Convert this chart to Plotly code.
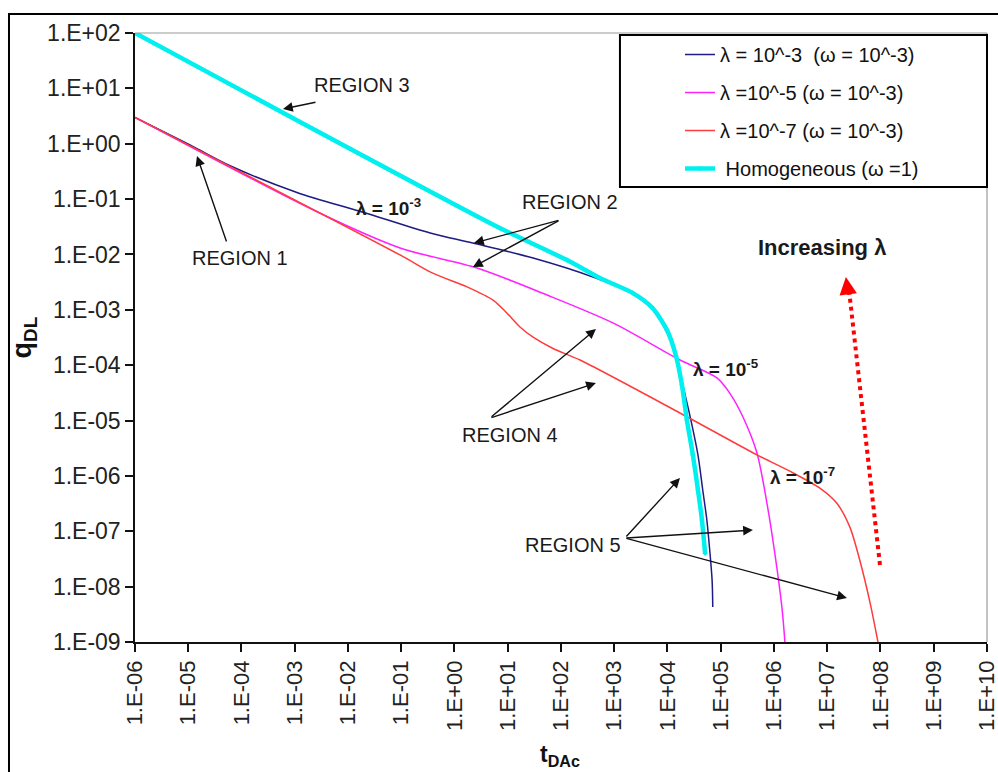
import plotly.graph_objects as go

# Dimensionless rate q_DL versus dimensionless time t_DAc (log-log)
t_lam3 = [1e-6, 1.08e-5, 6.1e-5, 1.1e-3, 1.91e-2, 0.35, 2.2, 30, 400, 2.25e3, 5.3e3,
          1.02e4, 1.51e4, 2.04e4, 2.76e4, 3.74e4, 4.6e4, 5.5e4, 6.3e4, 6.9e4, 7.1e4]
q_lam3 = [3.0, 0.95, 0.40, 0.132, 5.8e-2, 2.44e-2, 1.61e-2, 8.6e-3, 3.9e-3, 1.93e-3, 1.0e-3,
          3.6e-4, 1.24e-4, 3.6e-5, 1.02e-5, 2.4e-6, 5.6e-7, 1.6e-7, 4.0e-8, 1.31e-8, 4.3e-9]

t_lam5 = [1e-6, 2.62e-3, 9.5e-2, 2.65, 55, 950, 1.72e4, 8.5e4, 1.49e5, 2.62e5, 4.8e5,
          7.4e5, 1.04e6, 1.41e6, 1.61e6]
q_lam5 = [3.0, 5.9e-2, 1.31e-2, 5.7e-3, 1.85e-3, 5.8e-4, 1.24e-4, 5.9e-5, 3.1e-5, 1.16e-5, 2.6e-6,
          3.2e-7, 4.0e-8, 4.3e-9, 1.0e-9]

t_lam7 = [1e-6, 9.5e-2, 0.39, 1.72, 5.3, 9.7, 17, 30, 71, 228, 1.72e4, 4.8e5, 2.3e6, 7.3e6,
          1.52e7, 2.67e7, 4.1e7, 6.4e7, 9.0e7]
q_lam7 = [3.0, 9.8e-3, 4.6e-3, 2.6e-3, 1.5e-3, 8.7e-4, 4.9e-4, 3.2e-4, 2.0e-4, 1.24e-4, 1.37e-5,
          2.4e-6, 1.13e-6, 6.0e-7, 3.2e-7, 1.19e-7, 3.0e-8, 5.1e-9, 1.0e-9]

t_homo = [1e-6, 1.26e-3, 7.1, 130, 540, 2.25e3, 5.3e3, 9.8e3, 1.45e4, 1.87e4, 2.32e4, 3.0e4,
          3.74e4, 4.45e4, 5.1e4]
q_homo = [100, 2.47, 3.0e-2, 7.9e-3, 3.75e-3, 2.0e-3, 1.07e-3, 4.3e-4, 1.46e-4, 4.4e-5, 1.02e-5,
          2.4e-6, 5.6e-7, 1.6e-7, 4.0e-8]

series_names = ["λ = 10^-3\u00a0\u00a0(ω = 10^-3)", "λ =10^-5 (ω = 10^-3)",
                "λ =10^-7 (ω = 10^-3)", "\u00a0Homogeneous (ω =1)"]

x_exponents = list(range(-6, 11))
y_exponents = list(range(-9, 3))


def sci_label(e):
    return "1.E{}{:02d}".format("+" if e >= 0 else "-", abs(e))


FONT = "Liberation Sans, Arial, sans-serif"

fig = go.Figure()
fig.add_trace(go.Scatter(x=t_lam3, y=q_lam3, mode="lines", name=series_names[0],
                         line=dict(color="#1c1c84", width=1.5, shape="spline", smoothing=0.9),
                         legendgroup="a"))
fig.add_trace(go.Scatter(x=t_lam5, y=q_lam5, mode="lines", name=series_names[1],
                         line=dict(color="#ff22ff", width=1.5, shape="spline", smoothing=0.8),
                         legendgroup="b"))
fig.add_trace(go.Scatter(x=t_lam7, y=q_lam7, mode="lines", name=series_names[2],
                         line=dict(color="#ff3b3b", width=1.5, shape="spline", smoothing=0.8),
                         legendgroup="c"))
fig.add_trace(go.Scatter(x=t_homo, y=q_homo, mode="lines+markers", name=series_names[3],
                         line=dict(color="#00f0f0", width=4.5, shape="spline", smoothing=0.7),
                         marker=dict(color="#00f0f0", size=4, symbol="diamond"),
                         legendgroup="d"))

axis_common = dict(type="log", showgrid=False, zeroline=False, showline=True,
                   linecolor="#111111", linewidth=1.5, ticks="outside", ticklen=8,
                   tickwidth=1.5, tickcolor="#111111", ticklabeloverflow="allow",
                   automargin=False)

fig.update_xaxes(range=[-6, 10.002], tickvals=[10.0 ** e for e in x_exponents],
                 ticktext=[sci_label(e) for e in x_exponents], tickangle=-90,
                 tickfont=dict(family=FONT, size=22, color="#222222"), **axis_common)
fig.update_yaxes(range=[-9, 2], tickvals=[10.0 ** e for e in y_exponents],
                 ticktext=[sci_label(e) for e in y_exponents],
                 tickfont=dict(family=FONT, size=23, color="#222222"), **axis_common)

ann = []


def text_at(lx, ly, txt, size=20, bold=False):
    ann.append(dict(x=lx, y=ly, xref="x", yref="y", text=("<b>%s</b>" % txt) if bold else txt,
                    showarrow=False, font=dict(family=FONT, size=size, color="#1a1a1a")))


def arrow(hx, hy, tx, ty, color="#111111", width=1.4):
    ann.append(dict(x=hx, y=hy, xref="x", yref="y", ax=tx, ay=ty, axref="x", ayref="y",
                    text="", showarrow=True, arrowhead=2, arrowsize=1.4, arrowwidth=width,
                    arrowcolor=color, standoff=0, startstandoff=0))


# region labels and pointers (log10 coordinates)
text_at(-1.737, 1.061, "REGION 3")
arrow(-3.221, 0.627, -2.582, 0.754)
text_at(-4.028, -2.064, "REGION 1")
arrow(-4.836, -0.222, -4.272, -1.793)
text_at(2.169, -1.053, "REGION 2")
arrow(0.366, -1.793, 1.981, -1.378)
arrow(0.347, -2.227, 1.981, -1.378)
text_at(1.042, -5.262, "REGION 4")
arrow(2.657, -3.347, 0.667, -4.955)
arrow(2.657, -4.322, 0.667, -4.955)
text_at(2.225, -7.249, "REGION 5")
arrow(4.235, -6.038, 3.202, -7.122)
arrow(5.606, -6.978, 3.202, -7.122)
arrow(7.371, -8.206, 3.202, -7.122)

text_at(-1.230, -1.143, "λ = 10<sup>-3</sup>", size=19, bold=True)
text_at(5.099, -4.051, "λ = 10<sup>-5</sup>", size=19, bold=True)
text_at(6.545, -6.002, "λ = 10<sup>-7</sup>", size=19, bold=True)
text_at(6.901, -1.866, "Increasing λ", size=22, bold=True)

# arrowhead of the dotted "increasing λ" pointer
arrow(7.352, -2.408, 7.40, -2.75, color="#ff0000", width=2.5)

# axis titles
ann.append(dict(x=-0.152, y=0.5008, xref="paper", yref="paper", text="<b>q<sub>DL</sub></b>",
                textangle=-90, showarrow=False, font=dict(family=FONT, size=27, color="#111111")))
ann.append(dict(x=0.4988, y=-0.2135, xref="paper", yref="paper", text="<b>t<sub>DAc</sub></b>",
                showarrow=False, font=dict(family=FONT, size=23, color="#111111")))

shapes = [
    # outer frame
    dict(type="rect", xref="paper", yref="paper", x0=-0.1479, x1=1.05, y0=-0.4, y1=1.0312,
         line=dict(color="#000000", width=2), layer="below"),
    # plot area top/right edges
    dict(type="line", xref="paper", yref="paper", x0=0, x1=1, y0=1, y1=1,
         line=dict(color="#9a9a9a", width=1.2)),
    dict(type="line", xref="paper", yref="paper", x0=1, x1=1, y0=0, y1=1,
         line=dict(color="#9a9a9a", width=1.2)),
    # legend box
    dict(type="rect", xref="paper", yref="paper", x0=0.5692, x1=1.0, y0=0.7471, y1=0.9967,
         line=dict(color="#000000", width=2), fillcolor="white", layer="above"),
    # dotted "increasing λ" pointer shaft
    dict(type="line", xref="paper", yref="paper", x0=0.8744, y0=0.1264, x1=0.8375, y1=0.585,
         line=dict(color="#ff0000", width=4, dash="dot")),
]

fig.update_layout(
    width=998, height=772,
    margin=dict(l=135, r=11, t=33, b=130, autoexpand=False),
    paper_bgcolor="white", plot_bgcolor="white",
    font=dict(family=FONT, color="#111111"),
    showlegend=True,
    legend=dict(x=0.6397, y=0.9967, xanchor="left", yanchor="top",
                bgcolor="rgba(0,0,0,0)", borderwidth=0, traceorder="grouped",
                tracegroupgap=9, font=dict(family=FONT, size=20, color="#111111")),
    annotations=ann,
    shapes=shapes,
)

fig.write_html("out.html")
